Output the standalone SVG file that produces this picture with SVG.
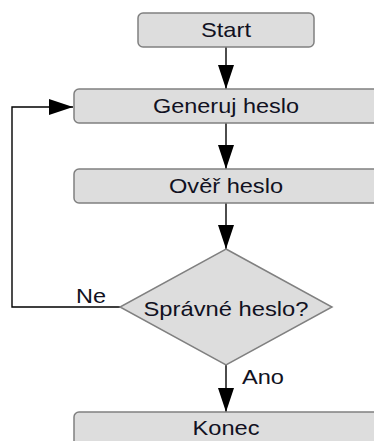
<svg xmlns="http://www.w3.org/2000/svg" width="374" height="441" viewBox="0 0 374 441">
  <style>
    .box { fill: #dddddd; stroke: #808080; stroke-width: 1.5; }
    .lbl { font-family: "Liberation Sans", Arial, sans-serif; font-size: 21px; fill: #111122; }
    .mid { text-anchor: middle; }
    .wire { fill: none; stroke: #000; stroke-width: 1.4; }
  </style>
  <defs>
    <marker id="head" markerUnits="userSpaceOnUse" markerWidth="24" markerHeight="16" refX="24" refY="8" orient="auto">
      <path d="M0,0 L24,8 L0,16 Z" fill="#000"/>
    </marker>
  </defs>

  <rect width="374" height="441" fill="#fff"/>

  <g id="connectors">
    <line class="wire" x1="226" y1="47" x2="226" y2="89" marker-end="url(#head)"/>
    <line class="wire" x1="226" y1="123" x2="226" y2="169" marker-end="url(#head)"/>
    <line class="wire" x1="226" y1="203" x2="226" y2="249" marker-end="url(#head)"/>
    <line class="wire" x1="226" y1="365" x2="226" y2="412" marker-end="url(#head)"/>
    <polyline class="wire" points="120,307 12,307 12,107 73,107" marker-end="url(#head)"/>
    <text class="lbl" x="76" y="303" textLength="30" lengthAdjust="spacingAndGlyphs">Ne</text>
    <text class="lbl" x="242" y="384" textLength="42" lengthAdjust="spacingAndGlyphs">Ano</text>
  </g>

  <g id="start">
    <rect class="box" x="138" y="13" width="176" height="34" rx="5"/>
    <text class="lbl mid" x="226" y="37" textLength="50" lengthAdjust="spacingAndGlyphs">Start</text>
  </g>

  <g id="generuj">
    <rect class="box" x="74" y="89" width="304" height="34" rx="5"/>
    <text class="lbl mid" x="226" y="113" textLength="146" lengthAdjust="spacingAndGlyphs">Generuj heslo</text>
  </g>

  <g id="over">
    <rect class="box" x="74" y="169" width="304" height="34" rx="5"/>
    <text class="lbl mid" x="226" y="193" textLength="114" lengthAdjust="spacingAndGlyphs">Ověř heslo</text>
  </g>

  <g id="decision">
    <polygon class="box" points="226,249 332,307 226,365 120,307"/>
    <text class="lbl mid" x="226" y="316" textLength="165" lengthAdjust="spacingAndGlyphs">Správné heslo?</text>
  </g>

  <g id="konec">
    <rect class="box" x="74" y="412" width="304" height="34" rx="5"/>
    <text class="lbl mid" x="226" y="435" textLength="67" lengthAdjust="spacingAndGlyphs">Konec</text>
  </g>
</svg>
